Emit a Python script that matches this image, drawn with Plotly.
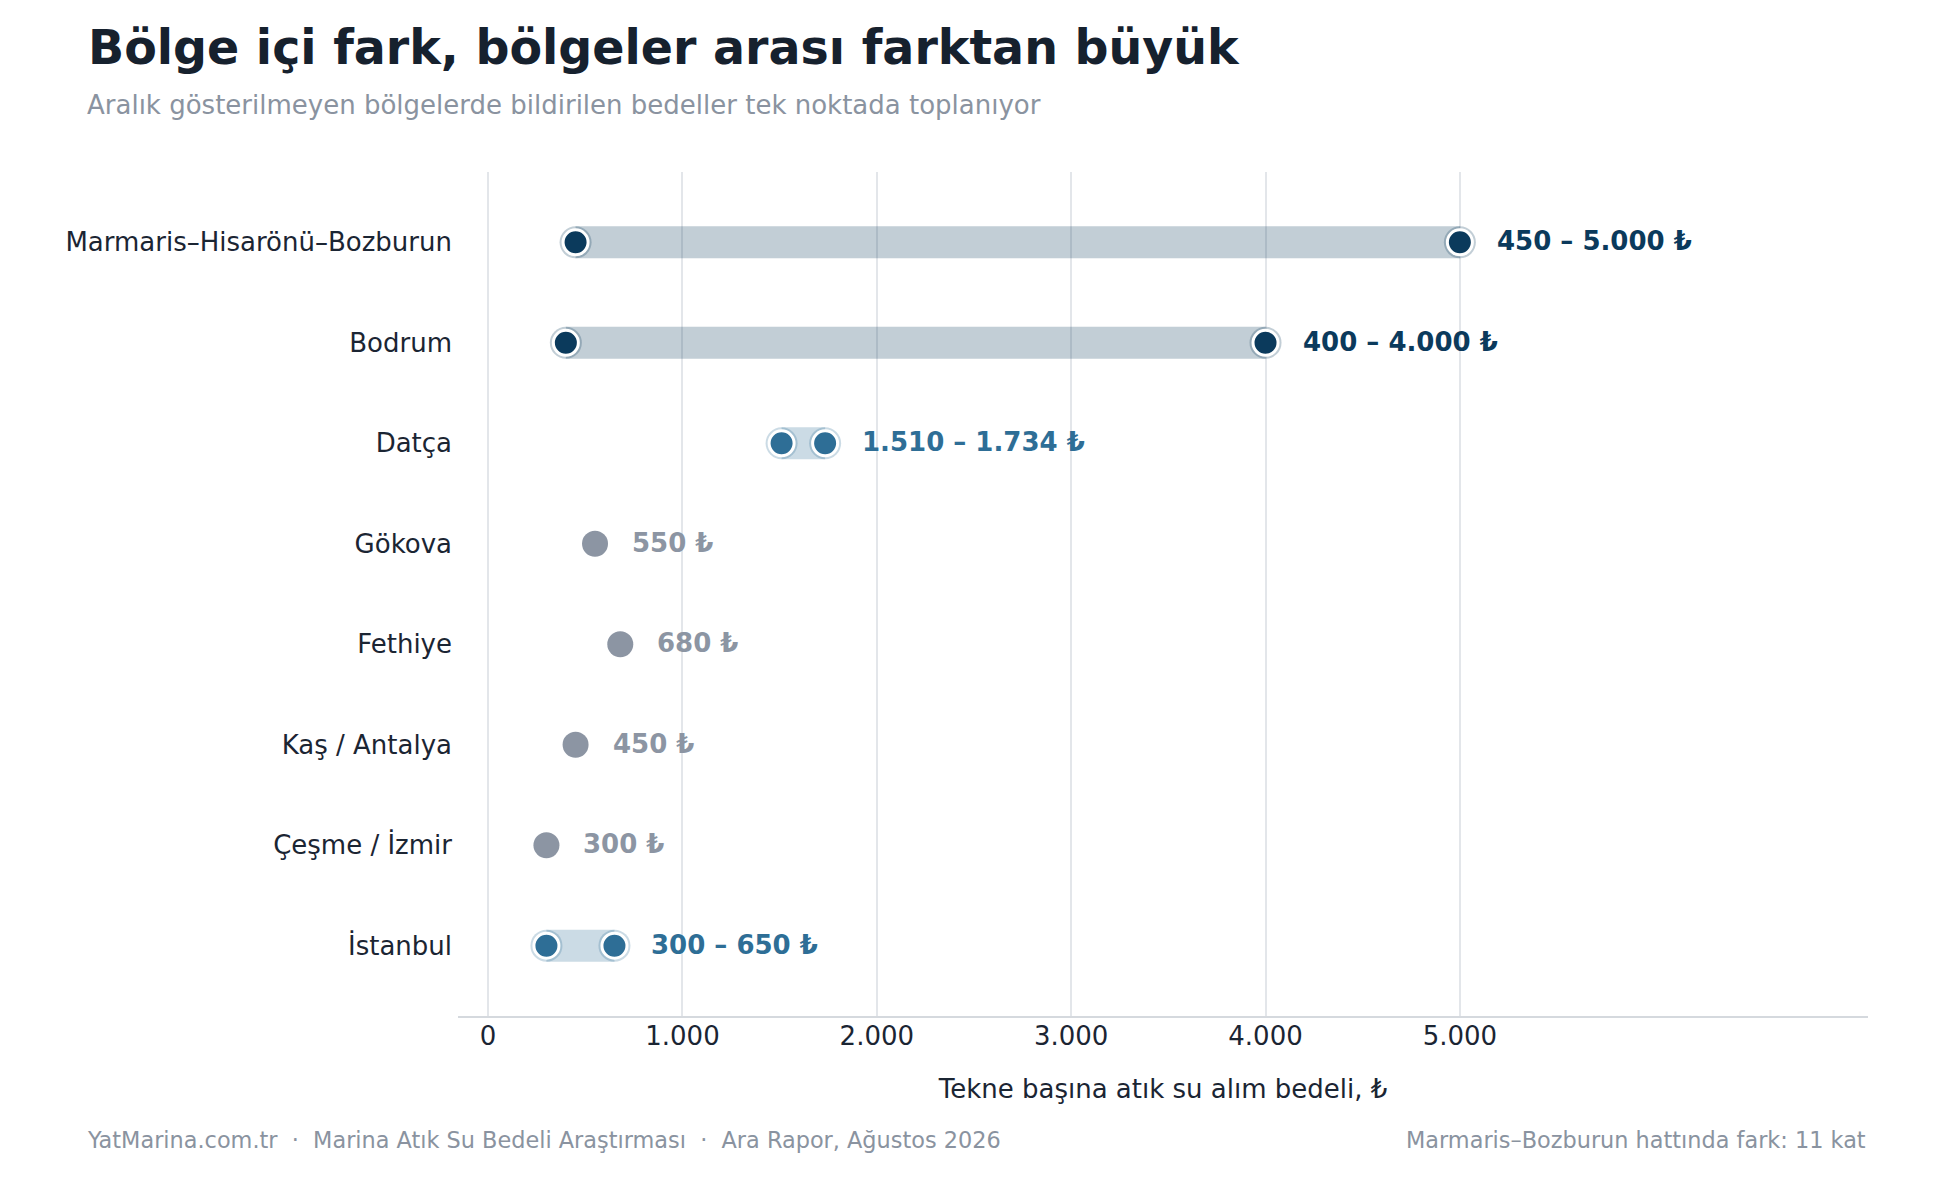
import plotly.graph_objects as go

# ---- data ----
regions = ["Marmaris–Hisarönü–Bozburun", "Bodrum", "Datça", "Gökova",
           "Fethiye", "Kaş / Antalya", "Çeşme / İzmir", "İstanbul"]
low_vals = [450, 400, 1510, 550, 680, 450, 300, 300]
high_vals = [5000, 4000, 1734, 550, 680, 450, 300, 650]
tiers = ["wide", "wide", "narrow", "single", "single", "single", "single", "narrow"]
x_ticks = [0, 1000, 2000, 3000, 4000, 5000]

TITLE = "Bölge içi fark, bölgeler arası farktan büyük"
SUBTITLE = "Aralık gösterilmeyen bölgelerde bildirilen bedeller tek noktada toplanıyor"
X_TITLE = "Tekne başına atık su alım bedeli, ₺"
FOOT_LEFT = "YatMarina.com.tr  ·  Marina Atık Su Bedeli Araştırması  ·  Ara Rapor, Ağustos 2026"
FOOT_RIGHT = "Marmaris–Bozburun hattında fark: 11 kat"

# ---- styles ----
FONT = "DejaVu Sans"
col_dot = {"wide": "#0b3a5c", "narrow": "#2e6e96", "single": "#8c95a3"}
col_bar = {"wide": "rgba(11,58,92,0.25)", "narrow": "rgba(46,110,150,0.25)"}
TXT = "#1b2533"
GREY = "#8a93a0"


def fmt(v):
    return f"{v:,}".replace(",", ".")


fig = go.Figure()
annotations = []

for name, lo, hi, tier in zip(regions, low_vals, high_vals, tiers):
    if tier == "single":
        fig.add_trace(go.Scatter(
            x=[lo], y=[name], mode="markers",
            marker=dict(size=26, color=col_dot[tier], line=dict(width=0)),
            hoverinfo="skip", showlegend=False))
        label = f"{fmt(lo)} ₺"
    else:
        fig.add_trace(go.Scatter(
            x=[lo, hi], y=[name, name], mode="lines",
            line=dict(color=col_bar[tier], width=32),
            hoverinfo="skip", showlegend=False))
        fig.add_trace(go.Scatter(
            x=[lo, hi], y=[name, name], mode="markers",
            marker=dict(size=32, color=col_bar[tier], line=dict(width=0)),
            hoverinfo="skip", showlegend=False))
        fig.add_trace(go.Scatter(
            x=[lo, hi], y=[name, name], mode="markers",
            marker=dict(size=25, color=col_dot[tier], line=dict(width=3, color="white")),
            hoverinfo="skip", showlegend=False))
        label = f"{fmt(lo)} – {fmt(hi)} ₺"
    annotations.append(dict(
        x=hi, y=name, xref="x", yref="y", text=f"<b>{label}</b>",
        showarrow=False, xanchor="left", yanchor="middle", xshift=35, yshift=1,
        font=dict(family=FONT, size=26, color=col_dot[tier])))

annotations += [
    dict(x=-0.2645, y=1.079, xref="paper", yref="paper", text=SUBTITLE,
         showarrow=False, xanchor="left", yanchor="middle",
         font=dict(family=FONT, size=26, color=GREY)),
    dict(x=-0.2645, y=-0.147, xref="paper", yref="paper", text=FOOT_LEFT,
         showarrow=False, xanchor="left", yanchor="middle",
         font=dict(family=FONT, size=22.4, color=GREY)),
    dict(x=1.0, y=-0.147, xref="paper", yref="paper", text=FOOT_RIGHT,
         showarrow=False, xanchor="right", yanchor="middle",
         font=dict(family=FONT, size=22.4, color=GREY)),
]

fig.update_layout(
    width=1955, height=1190,
    margin=dict(l=450, r=95, t=164, b=182),
    paper_bgcolor="white", plot_bgcolor="white",
    showlegend=False,
    font=dict(family=FONT, color=TXT),
    title=dict(text=f"<b>{TITLE}</b>", x=80 / 1955, xref="container", xanchor="left",
               y=0.967, yref="container", yanchor="middle",
               font=dict(family=FONT, size=47.5, color="#16212e")),
    annotations=annotations,
    xaxis=dict(
        range=[-155, 7100], tickvals=x_ticks, ticktext=[fmt(v) for v in x_ticks],
        showgrid=True, gridcolor="#e3e6ea", gridwidth=1.5, zeroline=False,
        showline=True, linecolor="#d5d9de", linewidth=2,
        ticks="", ticklabelstandoff=-4,
        tickfont=dict(family=FONT, size=26, color=TXT),
        title=dict(text=X_TITLE, standoff=30, font=dict(family=FONT, size=26, color=TXT)),
        fixedrange=True),
    yaxis=dict(
        type="category", categoryorder="array", categoryarray=regions,
        range=[7.7, -0.7], showgrid=False, zeroline=False, showline=False,
        ticks="", ticklabelstandoff=5,
        tickfont=dict(family=FONT, size=26, color=TXT), fixedrange=True),
)

fig.write_html("out.html")
